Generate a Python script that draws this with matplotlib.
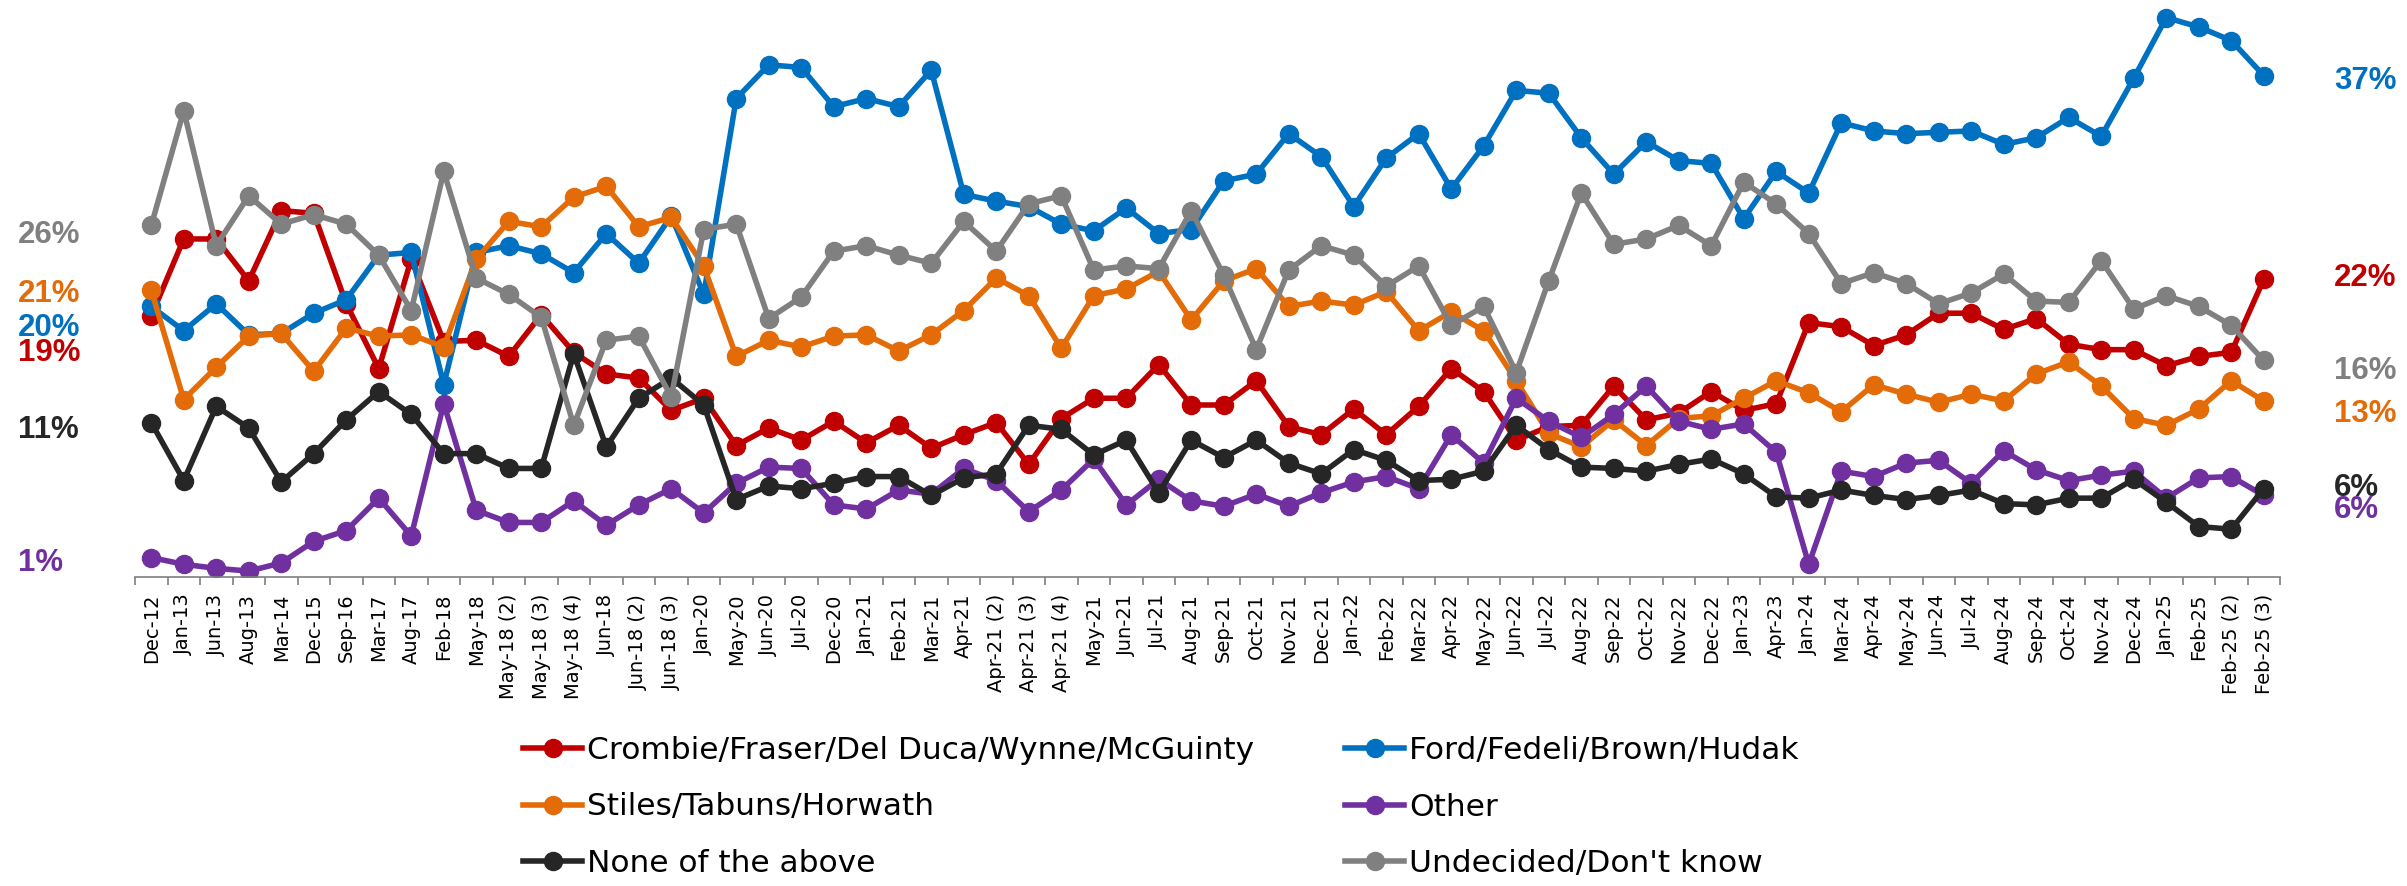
import numpy as np
import matplotlib.pyplot as plt

W, H = 2407, 886

months = ["Dec-12", "Jan-13", "Jun-13", "Aug-13", "Mar-14", "Dec-15", "Sep-16", "Mar-17",
          "Aug-17", "Feb-18", "May-18", "May-18 (2)", "May-18 (3)", "May-18 (4)", "Jun-18",
          "Jun-18 (2)", "Jun-18 (3)", "Jan-20", "May-20", "Jun-20", "Jul-20", "Dec-20",
          "Jan-21", "Feb-21", "Mar-21", "Apr-21", "Apr-21 (2)", "Apr-21 (3)", "Apr-21 (4)",
          "May-21", "Jun-21", "Jul-21", "Aug-21", "Sep-21", "Oct-21", "Nov-21", "Dec-21",
          "Jan-22", "Feb-22", "Mar-22", "Apr-22", "May-22", "Jun-22", "Jul-22", "Aug-22",
          "Sep-22", "Oct-22", "Nov-22", "Dec-22", "Jan-23", "Apr-23", "Jan-24", "Mar-24",
          "Apr-24", "May-24", "Jun-24", "Jul-24", "Aug-24", "Sep-24", "Oct-24", "Nov-24",
          "Dec-24", "Jan-25", "Feb-25", "Feb-25 (2)", "Feb-25 (3)"]

crombie = [18.9, 24.6, 24.6, 21.5, 26.7, 26.5, 19.8, 15.0, 23.1, 17.0, 17.1, 15.9, 19.0, 16.2,
           14.6, 14.3, 11.9, 12.8, 9.3, 10.6, 9.7, 11.1, 9.5, 10.8, 9.1, 10.1, 11.0, 7.9, 11.3,
           12.8, 12.8, 15.3, 12.3, 12.3, 14.1, 10.7, 10.1, 12.0, 10.1, 12.2, 15.0, 13.3, 9.7,
           10.7, 10.8, 13.7, 11.2, 11.7, 13.3, 11.9, 12.4, 18.4, 18.1, 16.7, 17.5, 19.1, 19.1,
           17.9, 18.7, 16.8, 16.4, 16.4, 15.2, 15.9, 16.2, 21.6]
ford = [19.6, 17.8, 19.8, 17.5, 17.6, 19.1, 20.1, 23.4, 23.6, 13.8, 23.6, 24.1, 23.5, 22.1,
        25.0, 22.8, 26.3, 20.5, 35.0, 37.5, 37.3, 34.4, 35.0, 34.4, 37.1, 27.9, 27.4, 27.0,
        25.7, 25.2, 26.9, 25.0, 25.3, 28.9, 29.4, 32.4, 30.7, 27.0, 30.6, 32.4, 28.3, 31.5,
        35.6, 35.4, 32.1, 29.4, 31.8, 30.4, 30.2, 26.1, 29.6, 28.0, 33.2, 32.6, 32.4, 32.5,
        32.6, 31.6, 32.1, 33.6, 32.2, 36.5, 41.0, 40.3, 39.3, 36.7]
stiles = [20.8, 12.7, 15.1, 17.4, 17.6, 14.8, 18.0, 17.4, 17.5, 16.6, 23.1, 25.9, 25.5, 27.7,
          28.5, 25.5, 26.2, 22.6, 15.9, 17.1, 16.6, 17.4, 17.5, 16.3, 17.5, 19.3, 21.7, 20.4,
          16.5, 20.4, 20.9, 22.2, 18.6, 21.5, 22.4, 19.6, 20.0, 19.7, 20.7, 17.8, 19.2, 17.8,
          14.1, 10.2, 9.2, 11.2, 9.3, 11.3, 11.5, 12.8, 14.1, 13.2, 11.8, 13.8, 13.1, 12.5,
          13.1, 12.6, 14.6, 15.5, 13.7, 11.3, 10.8, 12.0, 14.1, 12.6]
other = [1.0, 0.5, 0.2, 0.0, 0.6, 2.2, 3.0, 5.4, 2.6, 12.4, 4.5, 3.6, 3.6, 5.2, 3.4, 4.9, 6.1,
         4.3, 6.5, 7.7, 7.6, 4.9, 4.6, 6.0, 5.7, 7.6, 6.7, 4.4, 6.0, 8.3, 4.9, 6.8, 5.2, 4.8,
         5.7, 4.8, 5.8, 6.6, 7.0, 6.1, 10.1, 8.0, 12.8, 11.1, 9.9, 11.6, 13.7, 11.1, 10.5, 10.9,
         8.8, 0.5, 7.4, 7.0, 8.0, 8.2, 6.5, 8.9, 7.5, 6.7, 7.1, 7.4, 5.4, 6.9, 7.0, 5.6]
none_above = [11.0, 6.7, 12.2, 10.6, 6.6, 8.7, 11.2, 13.3, 11.6, 8.7, 8.7, 7.6, 7.6, 16.1, 9.2,
              12.8, 14.3, 12.3, 5.3, 6.3, 6.1, 6.5, 7.0, 7.0, 5.6, 6.9, 7.2, 10.8, 10.5, 8.6,
              9.7, 5.8, 9.7, 8.4, 9.7, 8.0, 7.2, 9.0, 8.2, 6.7, 6.8, 7.4, 10.8, 9.0, 7.7, 7.6,
              7.4, 7.9, 8.3, 7.2, 5.5, 5.4, 6.0, 5.6, 5.3, 5.6, 6.0, 5.0, 4.9, 5.4, 5.4, 6.8,
              5.1, 3.3, 3.1, 6.1]
undecided = [25.6, 34.1, 24.1, 27.8, 25.7, 26.4, 25.7, 23.4, 19.3, 29.6, 21.7, 20.5, 18.8, 10.8,
             17.1, 17.4, 12.9, 25.3, 25.7, 18.7, 20.3, 23.7, 24.1, 23.4, 22.8, 25.9, 23.7, 27.2,
             27.8, 22.3, 22.6, 22.4, 26.7, 21.9, 16.4, 22.3, 24.1, 23.4, 21.1, 22.6, 18.2, 19.6,
             14.7, 21.5, 28.0, 24.2, 24.6, 25.6, 24.1, 28.8, 27.2, 25.0, 21.3, 22.1, 21.3, 19.8,
             20.6, 22.0, 20.0, 19.9, 23.0, 19.4, 20.4, 19.6, 18.2, 15.6]

series = [
    ("Crombie/Fraser/Del Duca/Wynne/McGuinty", crombie, "#C00000"),
    ("Ford/Fedeli/Brown/Hudak", ford, "#0070C0"),
    ("Stiles/Tabuns/Horwath", stiles, "#E36C09"),
    ("Other", other, "#7030A0"),
    ("None of the above", none_above, "#262626"),
    ("Undecided/Don't know", undecided, "#808080"),
]

fig = plt.figure(figsize=(W / 100, H / 100), dpi=100)
ax = fig.add_axes([135 / W, 1 - 577 / H, 2145 / W, 577 / H])

x = np.arange(len(months))
handles = {}
for name, vals, col in series:
    h, = ax.plot(x, vals, color=col, lw=4, marker="o", ms=13, label=name)
    handles[name] = h

ax.set_xlim(-0.5, len(months) - 0.5)
ax.set_ylim(-0.44, 42.3)
ax.set_xticks(x)
ax.set_xticklabels(months, rotation=90, fontsize=14, color="black")
ax.tick_params(axis="x", which="major", length=0, pad=12)
ax.set_xticks(np.arange(-0.5, len(months)), minor=True)
ax.tick_params(axis="x", which="minor", length=5.5, color="#7f7f7f", width=1.2)
ax.set_yticks([])
for s in ["top", "left", "right"]:
    ax.spines[s].set_visible(False)
ax.spines["bottom"].set_color("#7f7f7f")
ax.spines["bottom"].set_linewidth(1.2)


def pct(v):
    return f"{v:.0f}%"


# end labels, left side and right side
left_y = {"Undecided/Don't know": 235, "Stiles/Tabuns/Horwath": 294,
          "Ford/Fedeli/Brown/Hudak": 328, "Crombie/Fraser/Del Duca/Wynne/McGuinty": 353,
          "None of the above": 430, "Other": 563}
right_y = {"Ford/Fedeli/Brown/Hudak": 81, "Crombie/Fraser/Del Duca/Wynne/McGuinty": 278,
           "Undecided/Don't know": 371, "Stiles/Tabuns/Horwath": 414,
           "None of the above": 488, "Other": 510}
for name, vals, col in series:
    fig.text(18 / W, 1 - left_y[name] / H, pct(vals[0]), color=col, fontsize=22.5,
             fontweight="bold", family="Liberation Sans", va="center", ha="left")
    fig.text(2334 / W, 1 - right_y[name] / H, pct(vals[-1]), color=col, fontsize=22.5,
             fontweight="bold", family="Liberation Sans", va="center", ha="left")

order = ["Crombie/Fraser/Del Duca/Wynne/McGuinty", "Stiles/Tabuns/Horwath", "None of the above",
         "Ford/Fedeli/Brown/Hudak", "Other", "Undecided/Don't know"]
fig.legend([handles[n] for n in order], order, ncol=2, loc="upper left",
           bbox_to_anchor=(523 / W, 1 - 736 / H), frameon=False, fontsize=22.5,
           handlelength=1.9, handletextpad=0.15, columnspacing=2.9, labelspacing=0.88,
           borderaxespad=0, borderpad=0)

fig.savefig("out.png", dpi=100)
